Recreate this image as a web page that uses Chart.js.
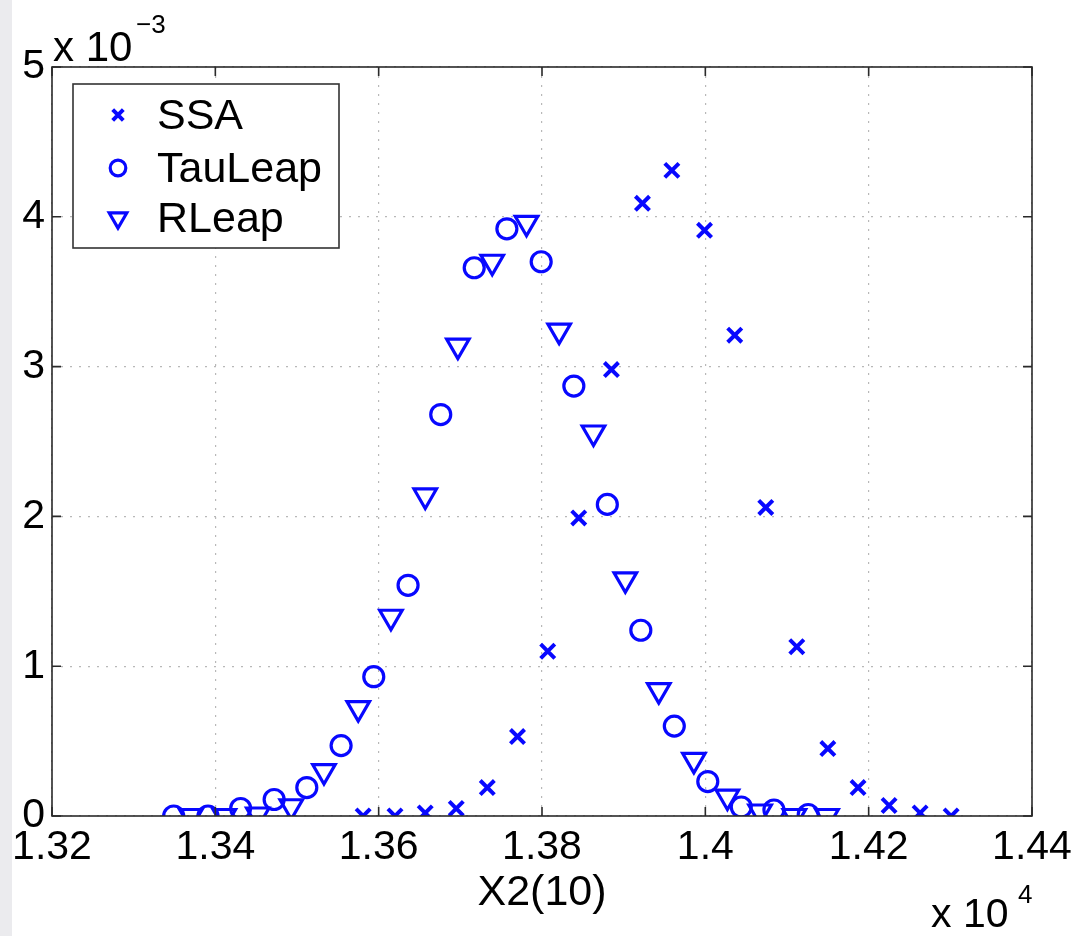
<!DOCTYPE html>
<html>
<head>
<meta charset="utf-8">
<script src="https://cdn.jsdelivr.net/npm/chart.js@4"></script>
<style>
  html, body { margin: 0; padding: 0; }
  body { width: 1080px; height: 936px; background: linear-gradient(to right, #ebebee 0, #ebebee 12px, #fff 12px); }
  #wrap { position: relative; width: 1080px; height: 936px; }
</style>
</head>
<body>
<div id="wrap"><canvas id="chart" width="1080" height="936"></canvas></div>
<script>
// x in units of 10^4, y in units of 10^-3
const ssaX = [1.3581, 1.3620, 1.3657, 1.3695, 1.3733, 1.3770, 1.3807, 1.3845, 1.3885, 1.3923,
              1.3959, 1.3999, 1.4036, 1.4074, 1.4112, 1.4150, 1.4187, 1.4225, 1.4263, 1.4301];
const ssaY = [0, 0, 0.02, 0.05, 0.19, 0.53, 1.10, 1.99, 2.98, 4.09,
              4.31, 3.91, 3.21, 2.06, 1.13, 0.45, 0.19, 0.07, 0.02, 0];

const tauX = [1.3349, 1.3391, 1.3431, 1.3472, 1.3512, 1.3554, 1.3594, 1.3636, 1.3676, 1.3717,
              1.3757, 1.3799, 1.3839, 1.3880, 1.3921, 1.3962, 1.4003, 1.4044, 1.4084, 1.4126];
const tauY = [0, 0, 0.05, 0.11, 0.19, 0.47, 0.93, 1.54, 2.68, 3.66,
              3.92, 3.70, 2.87, 2.08, 1.24, 0.60, 0.23, 0.06, 0.04, 0.01];

const rleapX = [1.3370, 1.3411, 1.3452, 1.3493, 1.3533, 1.3575, 1.3615, 1.3657, 1.3697, 1.3739,
                1.3781, 1.3821, 1.3863, 1.3902, 1.3943, 1.3986, 1.4027, 1.4067, 1.4109, 1.4149];
const rleapY = [0, 0, 0.01, 0.065, 0.30, 0.72, 1.33, 2.14, 3.14, 3.70,
                3.96, 3.24, 2.56, 1.58, 0.84, 0.375, 0.13, 0.03, 0, 0];

const seriesNames = ["SSA", "TauLeap", "RLeap"];
const xTickMin = 1.32, xTickMax = 1.44, xStep = 0.02;
const yTickMin = 0, yTickMax = 5, yStep = 1;
const xLabel = "X2(10)";

const blue = "rgb(8,8,255)";
const font = "'Liberation Sans', Arial, Helvetica, sans-serif";

function pts(xs, ys) {
  return xs.map((x, i) => ({ x: x, y: ys[i] }));
}

const markers = [
  { pointStyle: "crossRot", radius: 10, rotation: 0, borderWidth: 4 },
  { pointStyle: "circle", radius: 10, rotation: 0, borderWidth: 3.2 },
  { pointStyle: "triangle", radius: 13, rotation: 180, borderWidth: 3.2 }
];

const datasets = [pts(ssaX, ssaY), pts(tauX, tauY), pts(rleapX, rleapY)].map((d, i) => ({
  label: seriesNames[i],
  data: d,
  showLine: false,
  borderColor: blue,
  backgroundColor: "rgba(0,0,0,0)",
  pointStyle: markers[i].pointStyle,
  pointRadius: markers[i].radius,
  pointRotation: markers[i].rotation,
  pointBorderWidth: markers[i].borderWidth,
  pointHoverRadius: markers[i].radius
}));

// frame, inward ticks, legend box and exponent notes, MATLAB style
const matlabBits = {
  id: "matlabBits",
  afterDraw(chart) {
    const ctx = chart.ctx;
    const a = chart.chartArea;
    const xs = chart.scales.x, ys = chart.scales.y;
    ctx.save();
    ctx.strokeStyle = "#2a2a2a";
    ctx.lineWidth = 1.6;
    ctx.strokeRect(a.left, a.top, a.right - a.left, a.bottom - a.top);

    const tl = 9;
    ctx.beginPath();
    xs.ticks.forEach(t => {
      const px = xs.getPixelForValue(t.value);
      ctx.moveTo(px, a.bottom); ctx.lineTo(px, a.bottom - tl);
      ctx.moveTo(px, a.top); ctx.lineTo(px, a.top + tl);
    });
    ys.ticks.forEach(t => {
      const py = ys.getPixelForValue(t.value);
      ctx.moveTo(a.left, py); ctx.lineTo(a.left + tl, py);
      ctx.moveTo(a.right, py); ctx.lineTo(a.right - tl, py);
    });
    ctx.stroke();

    // legend
    const lx = a.left + 21, ly = a.top + 17, lw = 266, lh = 164;
    ctx.fillStyle = "#fff";
    ctx.fillRect(lx, ly, lw, lh);
    ctx.strokeStyle = "#333";
    ctx.lineWidth = 1.6;
    ctx.strokeRect(lx, ly, lw, lh);
    const rowY = [ly + 31, ly + 84, ly + 134];
    chart.data.datasets.forEach((ds, i) => {
      ctx.strokeStyle = blue;
      ctx.fillStyle = "rgba(0,0,0,0)";
      ctx.lineWidth = markers[i].borderWidth;
      const r = i === 0 ? 7.5 : markers[i].radius * 0.78;
      Chart.helpers.drawPoint(ctx, {
        pointStyle: markers[i].pointStyle,
        radius: r,
        rotation: markers[i].rotation,
        borderWidth: markers[i].borderWidth
      }, lx + 45, rowY[i]);
      ctx.fillStyle = "#000";
      ctx.font = "43px " + font;
      ctx.textAlign = "left";
      ctx.textBaseline = "middle";
      ctx.fillText(ds.label, lx + 84, rowY[i] + 2);
    });

    // exponent notes
    ctx.fillStyle = "#000";
    ctx.textBaseline = "alphabetic";
    ctx.textAlign = "left";
    ctx.font = "42px " + font;
    ctx.fillText("x 10", a.left + 1, 61);
    ctx.font = "26px " + font;
    ctx.fillText("\u22123", a.left + 84, 33);
    ctx.font = "41px " + font;
    ctx.fillText("x 10", 931, 927);
    ctx.font = "26px " + font;
    ctx.fillText("4", 1018, 903);
    ctx.restore();
  }
};

const config = {
  type: "scatter",
  data: { datasets: datasets },
  options: {
    responsive: false,
    animation: false,
    events: [],
    layout: { padding: { top: 67, right: 48, left: 0, bottom: 0 } },
    plugins: {
      legend: { display: false },
      tooltip: { enabled: false }
    },
    scales: {
      x: {
        type: "linear",
        min: xTickMin,
        max: xTickMax,
        afterFit(scale) { scale.height = 120; },
        afterBuildTicks(scale) {
          const t = [];
          for (let v = xTickMin; v <= xTickMax + 1e-9; v += xStep) t.push({ value: +v.toFixed(2) });
          scale.ticks = t;
        },
        ticks: {
          color: "#000",
          padding: 7,
          maxRotation: 0,
          font: { family: font, size: 41 },
          callback: v => String(Number(Number(v).toFixed(2)))
        },
        grid: { color: "#b8b8b8", lineWidth: 1.2, drawTicks: false },
        border: { display: false, dash: [2, 7] },
        title: {
          display: true,
          text: xLabel,
          color: "#000",
          font: { family: font, size: 43 },
          padding: { top: 0, bottom: 17 }
        }
      },
      y: {
        type: "linear",
        min: yTickMin,
        max: yTickMax,
        afterFit(scale) { scale.width = 52; },
        ticks: {
          stepSize: yStep,
          color: "#000",
          padding: 7,
          font: { family: font, size: 41 }
        },
        grid: { color: "#b8b8b8", lineWidth: 1.2, drawTicks: false },
        border: { display: false, dash: [2, 7] }
      }
    }
  },
  plugins: [matlabBits]
};

const chart = new Chart(document.getElementById("chart"), config);
</script>
</body>
</html>
